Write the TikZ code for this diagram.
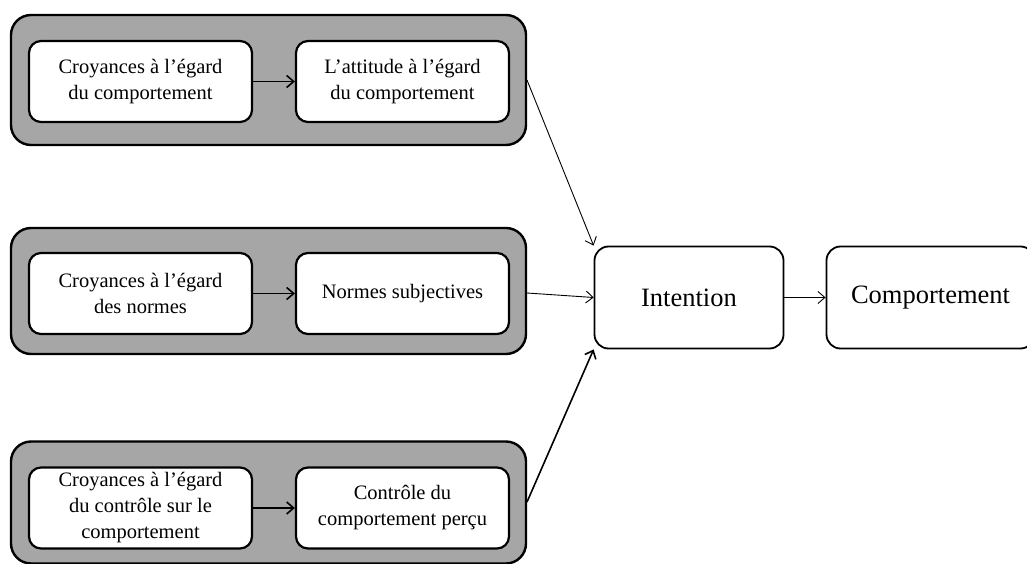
\documentclass[tikz,border=0pt]{standalone}
\usepackage{fontspec}
\setmainfont{Liberation Serif}
\usetikzlibrary{arrows.meta}
\definecolor{groupgray}{RGB}{166,166,166}
\begin{document}
\begin{tikzpicture}[x=1pt,y=-1pt,
  group/.style={draw=black, line width=2.4pt, fill=groupgray, rounded corners=20pt,
    minimum width=515pt, inner sep=0pt},
  inner/.style={draw=black, line width=2.2pt, fill=white, rounded corners=12pt,
    minimum height=81pt, inner sep=2pt, align=center,
    font=\fontsize{20.5}{26}\selectfont},
  main/.style={draw=black, line width=1.8pt, fill=white, rounded corners=14pt,
    minimum height=102pt, inner sep=0pt, font=\fontsize{26.5}{30}\selectfont},
  link/.style={-{Straight Barb[length=7pt,width=12pt]}, line width=0.9pt},
  innerlink/.style={-{Straight Barb[length=7pt,width=12pt]}, line width=1.6pt}]
  \useasboundingbox (0,0) rectangle (1027,564);

  % Groups of beliefs and their resulting determinants
  \node[group, minimum height=130pt] (g1) at (268.5,80) {};
  \node[inner, minimum width=223pt] (b1) at (140.5,81.5) {Croyances à l’égard\\du comportement};
  \node[inner, minimum width=213pt] (d1) at (402.5,81.5) {L’attitude à l’égard\\du comportement};

  \node[group, minimum height=126pt] (g2) at (268.5,291) {};
  \node[inner, minimum width=223pt] (b2) at (140.5,293.5) {Croyances à l’égard\\des normes};
  \node[inner, minimum width=213pt] (d2) at (402.5,293.5) {Normes subjectives};

  \node[group, minimum height=122pt] (g3) at (268.5,502.5) {};
  \node[inner, minimum width=223pt] (b3) at (140.5,508) {Croyances à l’égard\\du contrôle sur le\\comportement};
  \node[inner, minimum width=213pt] (d3) at (402.5,508) {Contrôle du\\comportement perçu};

  % Intention and behaviour
  \node[main, minimum width=189pt] (int) at (689,297.5) {Intention};
  \node[main, minimum width=208pt] (beh) at (930.5,297.5) {Comportement};

  % Connectors
  \draw[innerlink] (b1) -- (d1);
  \draw[innerlink] (b2) -- (d2);
  \draw[innerlink] (b3) -- (d3);

  \coordinate (s1) at (527,80);
  \coordinate (s2) at (527,293);
  \coordinate (s3) at (527,502);
  \draw[link] (s1) -- (int.north west);
  \draw[link] (s2) -- (int.west);
  \draw[link, line width=1.6pt] (s3) -- (int.south west);
  \draw[link] (int) -- (beh);
\end{tikzpicture}
\end{document}
